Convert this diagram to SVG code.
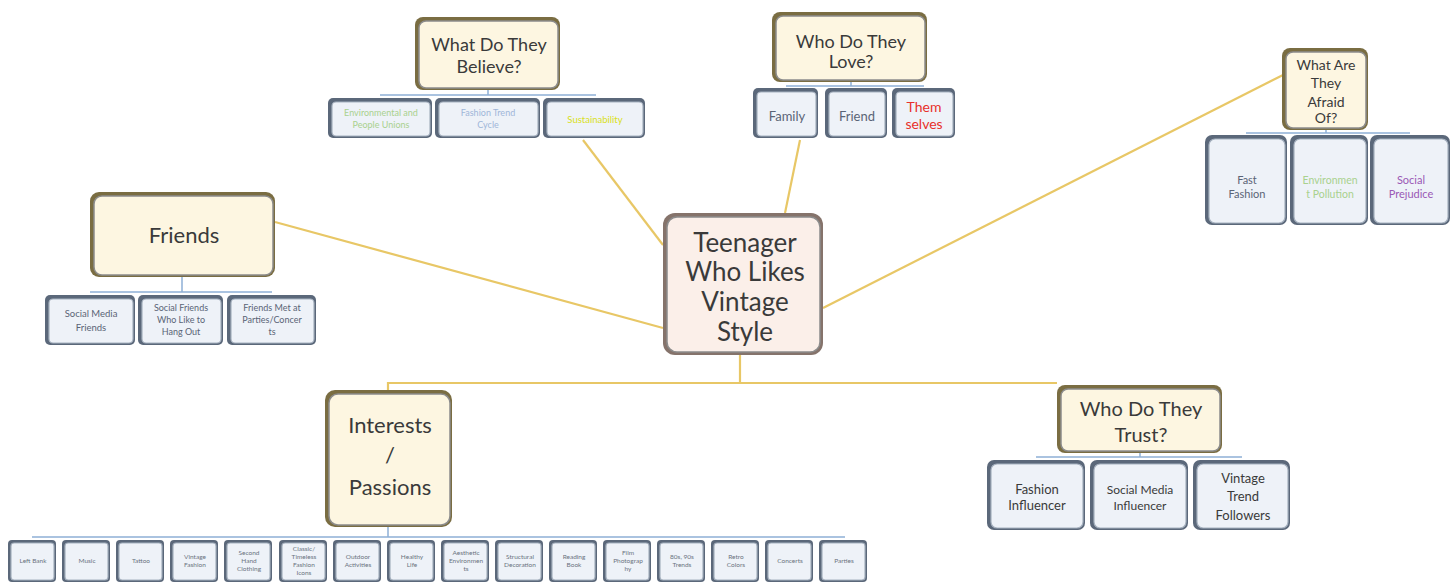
<svg xmlns="http://www.w3.org/2000/svg" width="1456" height="584" viewBox="0 0 1456 584">
<style>
.po{fill:#7a6d42}
.pi{fill:#fdf6e1;stroke:#8c8c8c;stroke-width:1.5}
.co{fill:#5b687a}
.ci{fill:#eef2f8;stroke:#a6b1bf;stroke-width:1.2}
.mo{fill:#85736b}
.mi{fill:#fbefe9;stroke:#8c8c8c;stroke-width:1.5}
text{font-family:Lato,"Open Sans","Liberation Sans",sans-serif;text-anchor:middle;fill:#3a3a3a}
.s{fill:#5a6476}
.b{font-size:6.5px;fill:#6a7280}
.gold{stroke:#e8c766;stroke-width:2.2;fill:none}
.blue{stroke:#8fb0d6;stroke-width:1.5;fill:none}
</style>
<rect width="1456" height="584" fill="#ffffff"/>
<g id="connectors">
<path class="gold" d="M275,222 L663,328"/>
<path class="gold" d="M583,140 L663,245"/>
<path class="gold" d="M800,140 L785,213"/>
<path class="gold" d="M1283,75 L823,308"/>
<path class="gold" d="M740,355 V383 M388,390 V383 H1057"/>
<path class="blue" d="M488,90 V95 M380,95 H596"/>
<path class="blue" d="M851,82 V86 M786,86 H924"/>
<path class="blue" d="M1326,130 V133 M1246,133 H1410"/>
<path class="blue" d="M182,277 V292 M90,292 H272"/>
<path class="blue" d="M388,527 V537 M32,537 H845"/>
<path class="blue" d="M1140,453 V457 M1036,457 H1242"/>
</g>
<g id="center">
<rect class="mo" x="663" y="213" width="160" height="142" rx="12"/>
<rect class="mi" x="667" y="217" width="153" height="135" rx="10"/>
<text x="745" y="252" font-size="26">Teenager</text>
<text x="745" y="281" font-size="26">Who Likes</text>
<text x="745" y="311" font-size="26">Vintage</text>
<text x="745" y="341" font-size="26">Style</text>
</g>
<g id="believe">
<rect class="po" x="415" y="17" width="145" height="73" rx="8"/>
<rect class="pi" x="419" y="21" width="139" height="67" rx="7"/>
<text x="489" y="51" font-size="18">What Do They</text>
<text x="489" y="73" font-size="18">Believe?</text>
</g>
<g id="believe-1"><rect class="co" x="328" y="98" width="104" height="40" rx="5"/><rect class="ci" x="332" y="102" width="98" height="34" rx="4"/>
<text x="381" y="116" font-size="9" style="fill:#a9d18e">Environmental and</text><text x="381" y="128" font-size="9" style="fill:#a9d18e">People Unions</text></g>
<g id="believe-2"><rect class="co" x="435" y="98" width="105" height="40" rx="5"/><rect class="ci" x="439" y="102" width="99" height="34" rx="4"/>
<text x="488" y="116" font-size="9" style="fill:#9fb6d8">Fashion Trend</text><text x="488" y="128" font-size="9" style="fill:#9fb6d8">Cycle</text></g>
<g id="believe-3"><rect class="co" x="543" y="98" width="102" height="40" rx="5"/><rect class="ci" x="547" y="102" width="96" height="34" rx="4"/>
<text x="595" y="123" font-size="9.5" style="fill:#d9e021">Sustainability</text></g>
<g id="love">
<rect class="po" x="772" y="12" width="155" height="70" rx="8"/>
<rect class="pi" x="776" y="16" width="149" height="64" rx="7"/>
<text x="851" y="48" font-size="18">Who Do They</text>
<text x="851" y="68" font-size="18">Love?</text>
</g>
<g id="love-1"><rect class="co" x="753" y="88" width="65" height="50" rx="5"/><rect class="ci" x="757" y="92" width="59" height="44" rx="4"/>
<text class="s" x="787" y="121" font-size="13">Family</text></g>
<g id="love-2"><rect class="co" x="825" y="88" width="62" height="50" rx="5"/><rect class="ci" x="829" y="92" width="56" height="44" rx="4"/>
<text class="s" x="857" y="121" font-size="13">Friend</text></g>
<g id="love-3"><rect class="co" x="892" y="88" width="63" height="50" rx="5"/><rect class="ci" x="896" y="92" width="57" height="44" rx="4"/>
<text x="924" y="112" font-size="14" style="fill:#e8302a">Them</text><text x="924" y="129" font-size="14" style="fill:#e8302a">selves</text></g>
<g id="afraid">
<rect class="po" x="1282" y="48" width="86" height="82" rx="8"/>
<rect class="pi" x="1286" y="52" width="80" height="76" rx="7"/>
<text x="1326" y="70" font-size="14">What Are</text>
<text x="1326" y="88" font-size="14">They</text>
<text x="1326" y="107" font-size="14">Afraid</text>
<text x="1326" y="123" font-size="14">Of?</text>
</g>
<g id="afraid-1"><rect class="co" x="1205" y="135" width="82" height="90" rx="7"/><rect class="ci" x="1209" y="139" width="76" height="84" rx="6"/>
<text class="s" x="1247" y="184" font-size="11">Fast</text><text class="s" x="1247" y="198" font-size="11">Fashion</text></g>
<g id="afraid-2"><rect class="co" x="1290" y="135" width="78" height="90" rx="7"/><rect class="ci" x="1294" y="139" width="72" height="84" rx="6"/>
<text x="1330" y="184" font-size="10.5" style="fill:#a9d18e">Environmen</text><text x="1330" y="198" font-size="10.5" style="fill:#a9d18e">t Pollution</text></g>
<g id="afraid-3"><rect class="co" x="1370" y="135" width="80" height="90" rx="7"/><rect class="ci" x="1374" y="139" width="74" height="84" rx="6"/>
<text x="1411" y="184" font-size="11" style="fill:#9a58b5">Social</text><text x="1411" y="198" font-size="11" style="fill:#9a58b5">Prejudice</text></g>
<g id="friends">
<rect class="po" x="90" y="192" width="185" height="85" rx="9"/>
<rect class="pi" x="94" y="196" width="179" height="79" rx="8"/>
<text x="184" y="243" font-size="22">Friends</text>
</g>
<g id="friends-1"><rect class="co" x="45" y="295" width="90" height="50" rx="5"/><rect class="ci" x="49" y="299" width="84" height="44" rx="4"/>
<text class="s" x="91" y="317" font-size="9.5">Social Media</text><text class="s" x="91" y="331" font-size="9.5">Friends</text></g>
<g id="friends-2"><rect class="co" x="138" y="295" width="85" height="50" rx="5"/><rect class="ci" x="142" y="299" width="79" height="44" rx="4"/>
<text class="s" x="181" y="311" font-size="9">Social Friends</text><text class="s" x="181" y="323" font-size="9">Who Like to</text><text class="s" x="181" y="335" font-size="9">Hang Out</text></g>
<g id="friends-3"><rect class="co" x="227" y="295" width="89" height="50" rx="5"/><rect class="ci" x="231" y="299" width="83" height="44" rx="4"/>
<text class="s" x="272" y="311" font-size="9">Friends Met at</text><text class="s" x="272" y="323" font-size="9">Parties/Concer</text><text class="s" x="272" y="335" font-size="9">ts</text></g>
<g id="trust">
<rect class="po" x="1057" y="385" width="165" height="68" rx="8"/>
<rect class="pi" x="1061" y="389" width="159" height="62" rx="7"/>
<text x="1141" y="416" font-size="20">Who Do They</text>
<text x="1141" y="442" font-size="20">Trust?</text>
</g>
<g id="trust-1"><rect class="co" x="987" y="460" width="98" height="70" rx="7"/><rect class="ci" x="991" y="464" width="92" height="64" rx="6"/>
<text x="1037" y="494" font-size="13">Fashion</text><text x="1037" y="510" font-size="13">Influencer</text></g>
<g id="trust-2"><rect class="co" x="1090" y="460" width="98" height="70" rx="7"/><rect class="ci" x="1094" y="464" width="92" height="64" rx="6"/>
<text x="1140" y="494" font-size="12">Social Media</text><text x="1140" y="510" font-size="12">Influencer</text></g>
<g id="trust-3"><rect class="co" x="1193" y="460" width="97" height="70" rx="7"/><rect class="ci" x="1197" y="464" width="91" height="64" rx="6"/>
<text x="1243" y="483" font-size="13">Vintage</text><text x="1243" y="501" font-size="13">Trend</text><text x="1243" y="520" font-size="13">Followers</text></g>
<g id="interests">
<rect class="po" x="325" y="390" width="127" height="137" rx="10"/>
<rect class="pi" x="329" y="394" width="121" height="131" rx="9"/>
<text x="390" y="433" font-size="22">Interests</text>
<text x="390" y="463" font-size="22">/</text>
<text x="390" y="495" font-size="22">Passions</text>
</g>
<g id="i1"><rect class="co" x="8" y="540" width="48" height="42" rx="4"/><rect class="ci" x="11" y="543" width="43" height="37" rx="3"/><text class="b" x="33" y="563">Left Bank</text></g>
<g id="i2"><rect class="co" x="62" y="540" width="48" height="42" rx="4"/><rect class="ci" x="65" y="543" width="43" height="37" rx="3"/><text class="b" x="87" y="563">Music</text></g>
<g id="i3"><rect class="co" x="116" y="540" width="48" height="42" rx="4"/><rect class="ci" x="119" y="543" width="43" height="37" rx="3"/><text class="b" x="141" y="563">Tattoo</text></g>
<g id="i4"><rect class="co" x="170" y="540" width="48" height="42" rx="4"/><rect class="ci" x="173" y="543" width="43" height="37" rx="3"/><text class="b" x="195" y="559">Vintage</text><text class="b" x="195" y="567">Fashion</text></g>
<g id="i5"><rect class="co" x="224" y="540" width="48" height="42" rx="4"/><rect class="ci" x="227" y="543" width="43" height="37" rx="3"/><text class="b" x="249" y="555">Second</text><text class="b" x="249" y="563">Hand</text><text class="b" x="249" y="571">Clothing</text></g>
<g id="i6"><rect class="co" x="279" y="540" width="48" height="42" rx="4"/><rect class="ci" x="282" y="543" width="43" height="37" rx="3"/><text class="b" x="304" y="551">Classic/</text><text class="b" x="304" y="559">Timeless</text><text class="b" x="304" y="567">Fashion</text><text class="b" x="304" y="575">Icons</text></g>
<g id="i7"><rect class="co" x="333" y="540" width="48" height="42" rx="4"/><rect class="ci" x="336" y="543" width="43" height="37" rx="3"/><text class="b" x="358" y="559">Outdoor</text><text class="b" x="358" y="567">Activities</text></g>
<g id="i8"><rect class="co" x="387" y="540" width="48" height="42" rx="4"/><rect class="ci" x="390" y="543" width="43" height="37" rx="3"/><text class="b" x="412" y="559">Healthy</text><text class="b" x="412" y="567">Life</text></g>
<g id="i9"><rect class="co" x="441" y="540" width="48" height="42" rx="4"/><rect class="ci" x="444" y="543" width="43" height="37" rx="3"/><text class="b" x="466" y="555">Aesthetic</text><text class="b" x="466" y="563">Environmen</text><text class="b" x="466" y="571">ts</text></g>
<g id="i10"><rect class="co" x="495" y="540" width="48" height="42" rx="4"/><rect class="ci" x="498" y="543" width="43" height="37" rx="3"/><text class="b" x="520" y="559">Structural</text><text class="b" x="520" y="567">Decoration</text></g>
<g id="i11"><rect class="co" x="549" y="540" width="48" height="42" rx="4"/><rect class="ci" x="552" y="543" width="43" height="37" rx="3"/><text class="b" x="574" y="559">Reading</text><text class="b" x="574" y="567">Book</text></g>
<g id="i12"><rect class="co" x="603" y="540" width="48" height="42" rx="4"/><rect class="ci" x="606" y="543" width="43" height="37" rx="3"/><text class="b" x="628" y="555">Film</text><text class="b" x="628" y="563">Photograp</text><text class="b" x="628" y="571">hy</text></g>
<g id="i13"><rect class="co" x="657" y="540" width="48" height="42" rx="4"/><rect class="ci" x="660" y="543" width="43" height="37" rx="3"/><text class="b" x="682" y="559">80s, 90s</text><text class="b" x="682" y="567">Trends</text></g>
<g id="i14"><rect class="co" x="711" y="540" width="48" height="42" rx="4"/><rect class="ci" x="714" y="543" width="43" height="37" rx="3"/><text class="b" x="736" y="559">Retro</text><text class="b" x="736" y="567">Colors</text></g>
<g id="i15"><rect class="co" x="765" y="540" width="48" height="42" rx="4"/><rect class="ci" x="768" y="543" width="43" height="37" rx="3"/><text class="b" x="790" y="563">Concerts</text></g>
<g id="i16"><rect class="co" x="819" y="540" width="48" height="42" rx="4"/><rect class="ci" x="822" y="543" width="43" height="37" rx="3"/><text class="b" x="844" y="563">Parties</text></g>
</svg>
